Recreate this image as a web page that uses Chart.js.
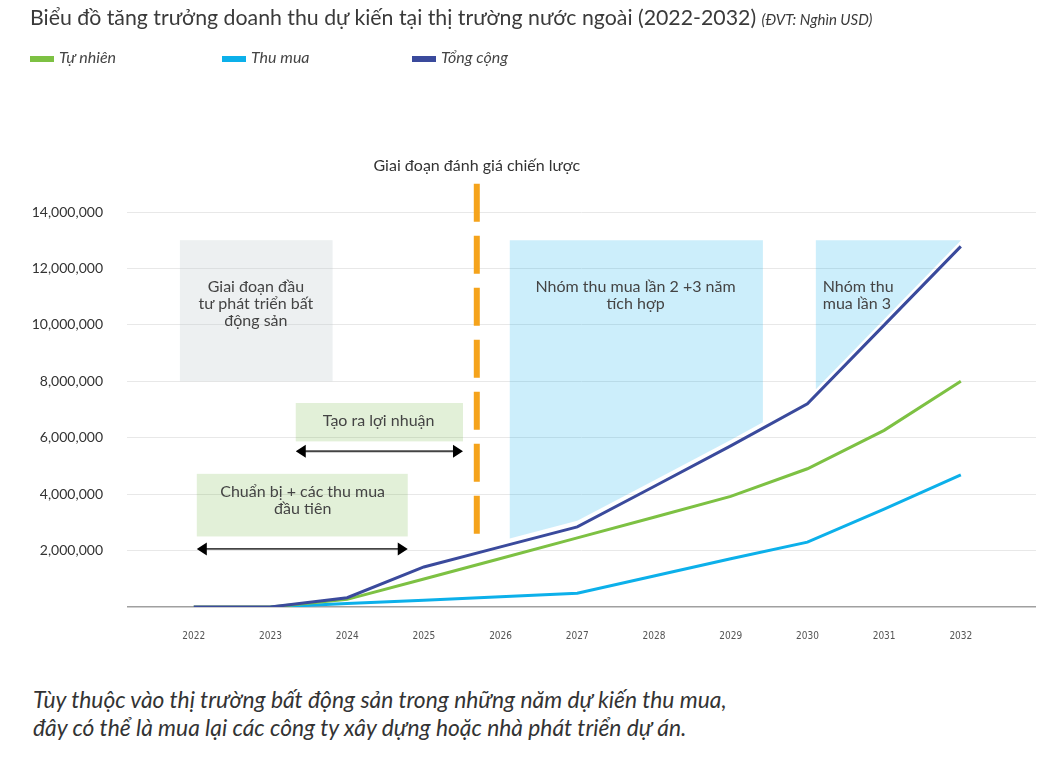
<!DOCTYPE html>
<html lang="vi">
<head>
<meta charset="utf-8">
<title>Doanh thu dự kiến</title>
<script src="https://cdn.jsdelivr.net/npm/chart.js@4.4.1/dist/chart.umd.min.js"></script>
<style>
  body { margin: 0; background: #fff; font-family: Lato, "Noto Sans", sans-serif; color: #333; }
  #wrap { position: relative; width: 1054px; height: 762px; overflow: hidden; }
  #chart { position: absolute; left: 0; top: 0; }
  .title { position: absolute; left: 30px; top: 4px; font-size: 21.3px; color: #3a3a3a; white-space: nowrap; }
  .title small { font-size: 15px; font-style: italic; }
  .legend { position: absolute; top: 47px; font-size: 16px; font-style: italic; color: #444; white-space: nowrap; }
  .legend i { display: inline-block; width: 24px; height: 6px; margin-right: 5px; vertical-align: middle; }
  .note { position: absolute; left: 33px; top: 685px; font-size: 22.8px; font-style: italic; line-height: 28px; color: #333; white-space: nowrap; }
</style>
</head>
<body>
<div id="wrap">
  <canvas id="chart" width="1054" height="680"></canvas>
  <div class="title">Biểu đồ tăng trưởng doanh thu dự kiến tại thị trường nước ngoài (2022-2032) <small>(ĐVT: Nghìn USD)</small></div>
  <div class="legend" style="left:30px"><i style="background:#7dc143"></i>Tự nhiên</div>
  <div class="legend" style="left:222px"><i style="background:#0cb0ea"></i>Thu mua</div>
  <div class="legend" style="left:412px"><i style="background:#3a4a9c"></i>Tổng cộng</div>
  <div class="note">Tùy thuộc vào thị trường bất động sản trong những năm dự kiến thu mua,<br>đây có thể là mua lại các công ty xây dựng hoặc nhà phát triển dự án.</div>
</div>
<script>
// data
const years = [2022, 2023, 2024, 2025, 2026, 2027, 2028, 2029, 2030, 2031, 2032];
const tuNhien = [0, 0, 270000, 990000, 1720000, 2450000, 3180000, 3920000, 4900000, 6260000, 8000000];
const thuMua = [null, 0, 120000, 240000, 360000, 490000, 1100000, 1710000, 2300000, 3470000, 4680000];
const tongCong = [0, 0, 330000, 1420000, 2130000, 2840000, 4270000, 5710000, 7200000, 9990000, 12780000];
const yTicks = [0, 2000000, 4000000, 6000000, 8000000, 10000000, 12000000, 14000000];

// annotation boxes, shaded zones, arrows (in year / value units)
const boxes = [
  { x0: 2021.82, x1: 2023.81, y0: 8000000, y1: 13000000, color: 'rgba(190,200,206,0.28)',
    lines: ['Giai đoạn đầu', 'tư phát triển bất', 'động sản'], tx: 2022.81, ty: 11350000 },
  { x0: 2023.33, x1: 2025.51, y0: 5870000, y1: 7230000, color: 'rgba(112,180,60,0.2)',
    lines: ['Tạo ra lợi nhuận'], tx: 2024.41, ty: 6600000 },
  { x0: 2022.04, x1: 2024.79, y0: 2500000, y1: 4720000, color: 'rgba(112,180,60,0.2)',
    lines: ['Chuẩn bị + các thu mua', 'đầu tiên'], tx: 2023.42, ty: 4090000 }
];
const zones = [
  { x0: 2026.12, x1: 2029.42, top: 13000000, lines: ['Nhóm thu mua lần 2 +3 năm', 'tích hợp'], tx: 2027.76, ty: 11350000, align: 'center' },
  { x0: 2030.11, x1: 2032, top: 13000000, lines: ['Nhóm thu', 'mua lần 3'], tx: 2030.2, ty: 11350000, align: 'left' }
];
const arrows = [
  { x0: 2023.33, x1: 2025.51, y: 5520000 },
  { x0: 2022.04, x1: 2024.79, y: 2060000 }
];
const phase = { x: 2025.69, y0: 2500000, y1: 15000000, label: 'Giai đoạn đánh giá chiến lược', ly: 15640000 };

function totalAt(v) {
  for (let i = 0; i < years.length - 1; i++) {
    if (v <= years[i + 1]) {
      const t = (v - years[i]) / (years[i + 1] - years[i]);
      return tongCong[i] + t * (tongCong[i + 1] - tongCong[i]);
    }
  }
  return tongCong[tongCong.length - 1];
}

const notes = {
  id: 'notes',
  beforeDatasetsDraw(chart) {
    const { ctx, scales: { x, y } } = chart;
    const X = v => x.getPixelForValue(v), Y = v => y.getPixelForValue(v);
    ctx.save();
    ctx.font = '16px Lato, "Noto Sans", sans-serif';
    ctx.textBaseline = 'middle';

    boxes.forEach(b => {
      ctx.fillStyle = b.color;
      ctx.fillRect(X(b.x0), Y(b.y1), X(b.x1) - X(b.x0), Y(b.y0) - Y(b.y1));
      ctx.fillStyle = '#444';
      ctx.textAlign = 'center';
      b.lines.forEach((l, i) => ctx.fillText(l, X(b.tx), Y(b.ty) + i * 17));
    });

    zones.forEach(z => {
      const top = Y(z.top);
      const pts = [z.x1];
      years.slice().reverse().forEach(v => { if (v > z.x0 && v < z.x1) pts.push(v); });
      pts.push(z.x0);
      ctx.beginPath();
      ctx.moveTo(X(z.x0), top);
      ctx.lineTo(X(z.x1), top);
      pts.forEach(v => ctx.lineTo(X(v), Math.max(top, Y(totalAt(v)) - 6)));
      ctx.closePath();
      ctx.fillStyle = 'rgba(0,170,235,0.2)';
      ctx.fill();
      ctx.fillStyle = '#444';
      ctx.textAlign = z.align;
      z.lines.forEach((l, i) => ctx.fillText(l, X(z.tx), Y(z.ty) + i * 17));
    });

    arrows.forEach(a => {
      const ax0 = X(a.x0), ax1 = X(a.x1), ay = Y(a.y);
      ctx.strokeStyle = '#444';
      ctx.lineWidth = 1.8;
      ctx.beginPath();
      ctx.moveTo(ax0 + 8, ay);
      ctx.lineTo(ax1 - 8, ay);
      ctx.stroke();
      ctx.fillStyle = '#000';
      ctx.beginPath();
      ctx.moveTo(ax0, ay); ctx.lineTo(ax0 + 10, ay - 6.5); ctx.lineTo(ax0 + 10, ay + 6.5); ctx.closePath();
      ctx.moveTo(ax1, ay); ctx.lineTo(ax1 - 10, ay - 6.5); ctx.lineTo(ax1 - 10, ay + 6.5); ctx.closePath();
      ctx.fill();
    });

    ctx.strokeStyle = '#f5a31b';
    ctx.lineWidth = 6;
    ctx.setLineDash([38, 14]);
    ctx.beginPath();
    ctx.moveTo(X(phase.x), Y(phase.y1));
    ctx.lineTo(X(phase.x), Y(phase.y0));
    ctx.stroke();
    ctx.setLineDash([]);
    ctx.fillStyle = '#333';
    ctx.textAlign = 'center';
    ctx.fillText(phase.label, X(phase.x), Y(phase.ly));
    ctx.restore();
  }
};

const pts = arr => years.map((v, i) => ({ x: v, y: arr[i] }));

new Chart(document.getElementById('chart'), {
  type: 'line',
  data: {
    datasets: [
      { label: 'Tổng cộng', data: pts(tongCong), borderColor: '#3a4a9c', borderWidth: 3 },
      { label: 'Tự nhiên', data: pts(tuNhien), borderColor: '#7dc143', borderWidth: 3 },
      { label: 'Thu mua', data: pts(thuMua), borderColor: '#0cb0ea', borderWidth: 3 }
    ]
  },
  options: {
    responsive: false,
    animation: false,
    devicePixelRatio: 1,
    layout: { padding: { left: 0, right: 18, top: 212, bottom: 0 } },
    elements: { point: { radius: 0 }, line: { tension: 0, fill: false } },
    plugins: { legend: { display: false }, tooltip: { enabled: false } },
    scales: {
      x: {
        type: 'linear',
        min: 2021.13,
        max: 2032.98,
        afterBuildTicks: s => { s.ticks = years.map(v => ({ value: v })); },
        afterFit: s => { s.height = 73; },
        grid: { display: false },
        border: { display: false },
        ticks: {
          padding: 15,
          maxRotation: 0,
          autoSkip: false,
          color: '#555',
          font: { family: '"Liberation Sans Narrow", "DejaVu Sans Condensed", sans-serif', size: 10 },
          callback: v => String(v)
        }
      },
      y: {
        min: 0,
        max: 14000000,
        afterBuildTicks: s => { s.ticks = yTicks.map(v => ({ value: v })); },
        afterFit: s => { s.width = 127; },
        border: { display: false },
        grid: {
          drawTicks: false,
          color: c => c.tick && c.tick.value === 0 ? '#a0a0a0' : '#e8e8e8',
          lineWidth: c => c.tick && c.tick.value === 0 ? 1.5 : 1
        },
        ticks: {
          padding: 24,
          color: '#333',
          font: { family: 'Lato, "Noto Sans", sans-serif', size: 14 },
          callback: v => v === 0 ? '' : v.toLocaleString('en-US')
        }
      }
    }
  },
  plugins: [notes]
});
</script>
</body>
</html>
